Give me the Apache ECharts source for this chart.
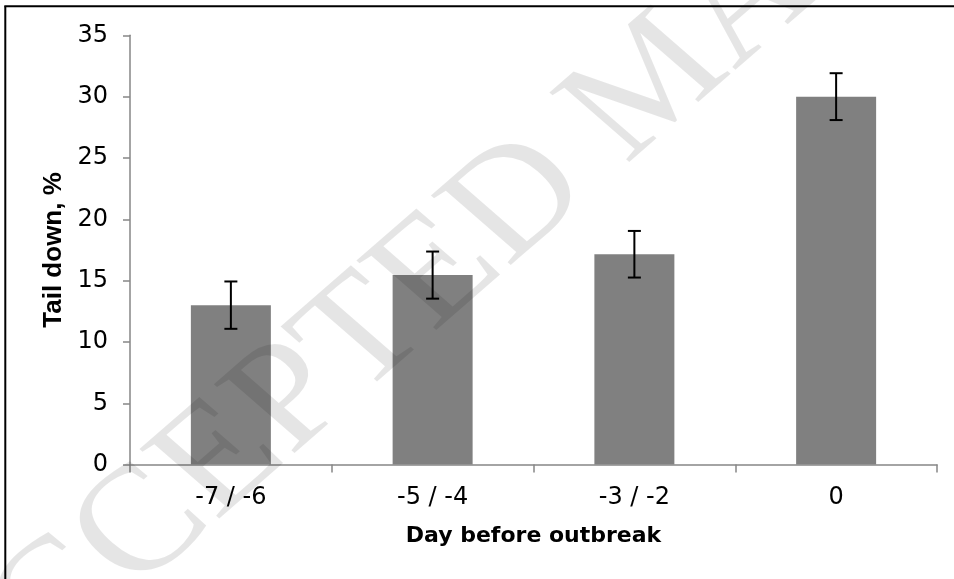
<!DOCTYPE html>
<html>
<head>
<meta charset="utf-8">
<script src="https://cdn.jsdelivr.net/npm/echarts@6/dist/echarts.min.js"></script>
<style>
  html, body { margin: 0; padding: 0; background: #fff; }
  #chart { width: 954px; height: 579px; }
</style>
</head>
<body>
<div id="chart"></div>
<script>
// ---- data ----
const categories = ['-7 / -6', '-5 / -4', '-3 / -2', '0'];
const tailDown = [13.0, 15.45, 17.15, 30.0];
const errors = [1.93, 1.92, 1.9, 1.91];
const yTicks = { min: 0, max: 35, interval: 5 };
const xTitle = 'Day before outbreak';
const yTitle = 'Tail down, %';
const watermark = 'ACCEPTED MANUSCRIPT';

const chart = echarts.init(document.getElementById('chart'), null, { renderer: 'canvas' });
const axisGray = '#868686';

const errData = tailDown.map((v, i) => [i, v - errors[i], v + errors[i]]);

const option = {
  backgroundColor: '#ffffff',
  animation: false,
  grid: { left: 130, right: 17, top: 35.3, bottom: 114.4, containLabel: false },
  xAxis: {
    type: 'category',
    data: categories,
    boundaryGap: true,
    axisLine: { show: true, lineStyle: { color: axisGray, width: 1.5 } },
    axisTick: { show: true, alignWithLabel: false, length: 8, lineStyle: { color: axisGray, width: 1.5 } },
    axisLabel: { color: '#000', fontFamily: 'DejaVu Sans', fontSize: 24, lineHeight: 24, margin: 21 },
    name: xTitle,
    nameLocation: 'middle',
    nameGap: 61,
    nameTextStyle: { color: '#000', fontFamily: 'DejaVu Sans', fontWeight: 'bold', fontSize: 22, lineHeight: 22 }
  },
  yAxis: {
    type: 'value',
    min: yTicks.min,
    max: yTicks.max,
    interval: yTicks.interval,
    splitLine: { show: false },
    axisLine: { show: true, lineStyle: { color: axisGray, width: 1.5 } },
    axisTick: { show: true, length: 7, lineStyle: { color: axisGray, width: 1.5 } },
    axisLabel: { color: '#000', fontFamily: 'DejaVu Sans', fontSize: 24, lineHeight: 24, margin: 22 },
    name: yTitle,
    nameLocation: 'middle',
    nameRotate: 90,
    nameGap: 61,
    nameTextStyle: { color: '#000', fontFamily: 'Liberation Sans', fontWeight: 'bold', fontSize: 26, lineHeight: 26 }
  },
  series: [
    {
      type: 'bar',
      data: tailDown,
      barWidth: 80,
      itemStyle: { color: '#808080' },
      z: 2
    },
    {
      type: 'custom',
      data: errData,
      z: 5,
      renderItem: function (params, api) {
        const x = api.value(0);
        const lo = api.coord([x, api.value(1)]);
        const hi = api.coord([x, api.value(2)]);
        const hw = 6.5;
        const st = { stroke: '#000', lineWidth: 2 };
        return {
          type: 'group',
          children: [
            { type: 'line', shape: { x1: hi[0], y1: hi[1], x2: lo[0], y2: lo[1] }, style: st },
            { type: 'line', shape: { x1: hi[0] - hw, y1: hi[1], x2: hi[0] + hw, y2: hi[1] }, style: st },
            { type: 'line', shape: { x1: lo[0] - hw, y1: lo[1], x2: lo[0] + hw, y2: lo[1] }, style: st }
          ]
        };
      }
    }
  ],
  graphic: [
    { type: 'line', z: 50, shape: { x1: 5.3, y1: 6.3, x2: 5.3, y2: 590 }, style: { stroke: '#000', lineWidth: 2 } },
    { type: 'line', z: 50, shape: { x1: 4.3, y1: 6.3, x2: 960, y2: 6.3 }, style: { stroke: '#000', lineWidth: 2 } },
    {
      type: 'group',
      x: 0, y: 0,
      scaleX: 1.15, scaleY: 1,
      z: 100,
      silent: true,
      children: [
        {
          type: 'text',
          z: 100,
          x: -58.3,
          y: 711.7,
          rotation: 45 * Math.PI / 180,
          silent: true,
          style: {
            text: watermark,
            x: 0, y: 0,
            font: '150px "Liberation Serif"',
            fill: 'rgba(0,0,0,0.1)',
            textAlign: 'left',
            textVerticalAlign: 'middle'
          }
        }
      ]
    }
  ]
};
chart.setOption(option);
</script>
</body>
</html>
